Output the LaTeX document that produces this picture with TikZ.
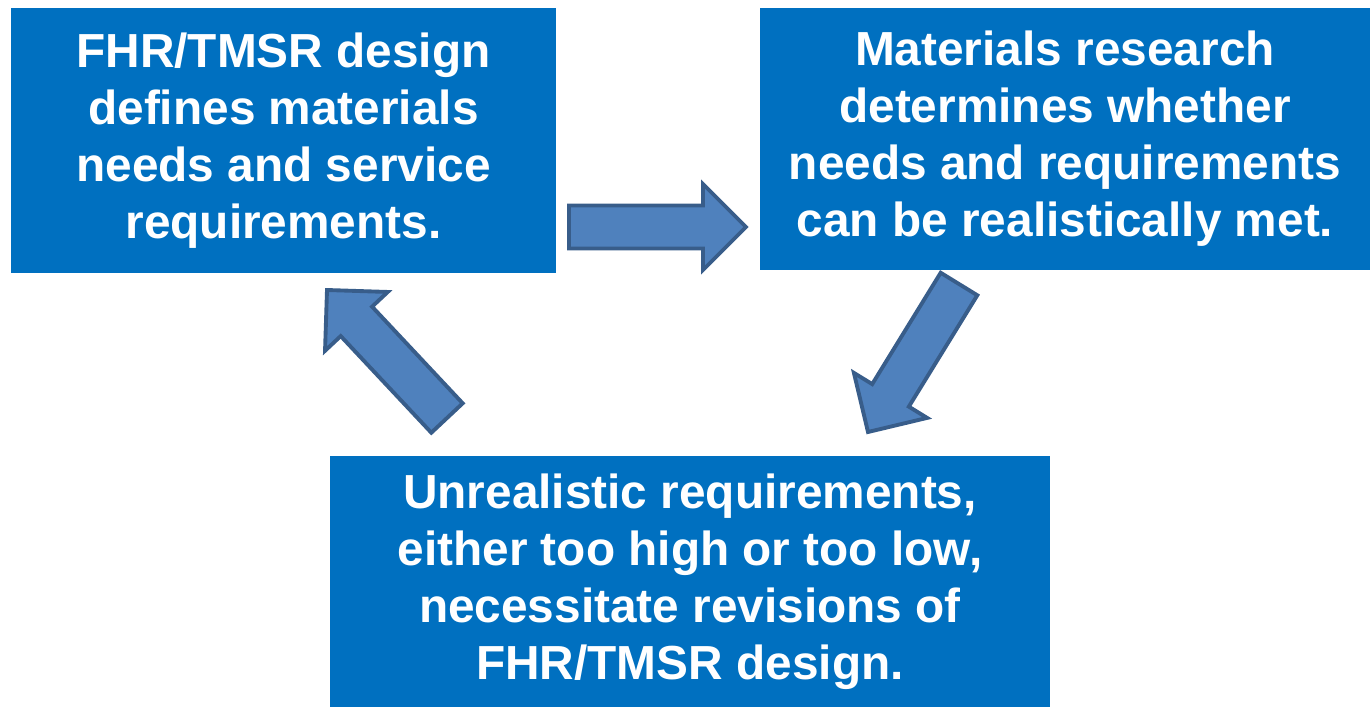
\documentclass[tikz,border=0pt]{standalone}
\usepackage{fontspec}
\setmainfont{Liberation Sans}
\usetikzlibrary{calc, positioning}
\definecolor{boxblue}{HTML}{0070C0}
\definecolor{arrowfill}{HTML}{4F81BD}
\definecolor{arrowline}{HTML}{385D8A}

% block arrow from tail (#1) to tip (#2)
\newcommand{\flowarrow}[2]{%
  \coordinate (hb) at ($(#2)!0.86cm!(#1)$);
  \filldraw[blockarrow] ($(#1)!0.43cm!90:(#2)$) -- ($(hb)!0.43cm!-90:(#1)$)
    -- ($(hb)!0.86cm!-90:(#1)$) -- (#2) -- ($(hb)!0.86cm!90:(#1)$)
    -- ($(hb)!0.43cm!90:(#1)$) -- ($(#1)!0.43cm!-90:(#2)$) -- cycle;}

\begin{document}
\begin{tikzpicture}[
    x=0.02cm, y=-0.02cm,
    stage/.style={fill=boxblue, text=white, align=center, inner sep=0pt,
                  font=\bfseries\fontsize{27.2}{32.4}\selectfont},
    blockarrow/.style={fill=arrowfill, draw=arrowline, line width=2.2pt, line join=miter}
]
   \useasboundingbox (0,0) rectangle (1370,707);

   % Stages
   \node[stage, minimum width=10.9cm, minimum height=5.32cm] (design) at (283.5,140.5)
        {FHR/TMSR design\\defines materials\\needs and service\\requirements.};
   \node[stage, minimum width=12.2cm, minimum height=5.24cm] (research) at (1065,139)
        {Materials research\\determines whether\\needs and requirements\\can be realistically met.};
   \node[stage, minimum width=14.4cm, minimum height=5.02cm] (revise) at (690,581.5)
        {Unrealistic requirements,\\either too high or too low,\\necessitate revisions of\\FHR/TMSR design.};

   % Arrows between stages
   \coordinate (t1) at (569,227);
   \coordinate (p1) at (746,227);
   \coordinate (t2) at (959,284);
   \coordinate (p2) at (868,432);
   \coordinate (t3) at (447,418);
   \coordinate (p3) at (327,290);
   \flowarrow{t1}{p1}
   \flowarrow{t2}{p2}
   \flowarrow{t3}{p3}

\end{tikzpicture}
\end{document}
